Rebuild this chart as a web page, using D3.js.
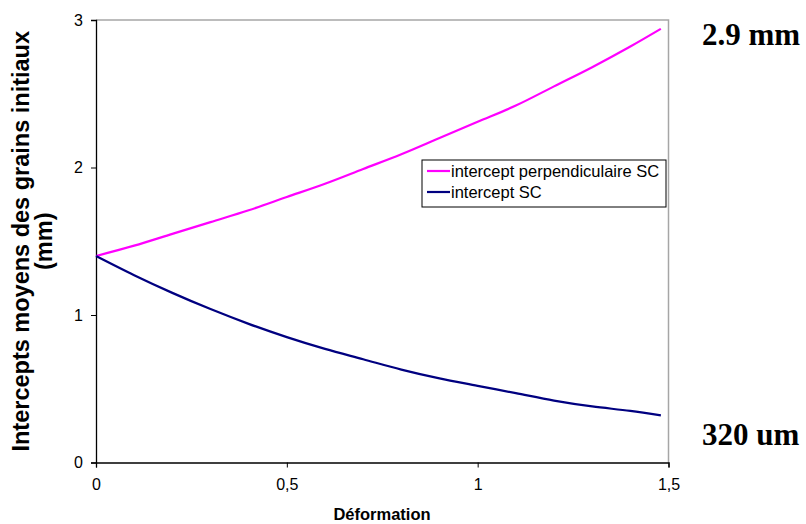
<!DOCTYPE html>
<html>
<head>
<meta charset="utf-8">
<script src="https://cdn.jsdelivr.net/npm/d3@7"></script>
<style>
  html, body { margin: 0; padding: 0; background: #fff; }
  svg { display: block; }
</style>
</head>
<body>
<svg id="chart" width="806" height="524"></svg>
<script>
// ---- data ----
const deformation = [0, 0.1, 0.2, 0.3, 0.4, 0.5, 0.6, 0.7, 0.8, 0.9, 1.0, 1.1, 1.2, 1.3, 1.4, 1.48];
const interceptPerp = [1.40, 1.47, 1.55, 1.63, 1.71, 1.80, 1.89, 1.99, 2.09, 2.20, 2.31, 2.42, 2.55, 2.68, 2.82, 2.94];
const interceptSC = [1.40, 1.27, 1.15, 1.04, 0.94, 0.85, 0.77, 0.70, 0.63, 0.57, 0.52, 0.47, 0.42, 0.38, 0.35, 0.32];
const seriesNames = ["intercept perpendiculaire SC", "intercept SC"];
const seriesColors = ["#FF00FF", "#000080"];
const xTicks = [0, 0.5, 1, 1.5];
const yTicks = [0, 1, 2, 3];
const xTitle = "Déformation";
const yTitleLines = ["Intercepts moyens des grains initiaux", "(mm)"];
const annotations = ["2.9 mm", "320 um"];

// ---- layout ----
const svg = d3.select("#chart");
const pLeft = 96, pRight = 668.5, pTop = 20, pBottom = 462.5;
const sans = "Arial, 'Liberation Sans', sans-serif";
const serif = "'Times New Roman', 'Liberation Serif', serif";

const x = d3.scaleLinear().domain([0, 1.5]).range([pLeft, pRight]);
const y = d3.scaleLinear().domain([0, 3]).range([pBottom, pTop]);

// plot border (top/right grey)
svg.append("path")
  .attr("d", `M${pLeft},${pTop}H${pRight}V${pBottom}`)
  .attr("fill", "none").attr("stroke", "#a6a6a6").attr("stroke-width", 1.5);

const fmt = d => String(d).replace(".", ",");

// x axis
const xAxis = svg.append("g")
  .attr("transform", `translate(0,${pBottom})`)
  .call(d3.axisBottom(x).tickValues(xTicks).tickFormat(fmt).tickSizeOuter(0).tickSize(5).tickPadding(11));
xAxis.select(".domain").attr("stroke", "#000").attr("stroke-width", 1.3);
xAxis.selectAll(".tick line").attr("stroke", "#000");
xAxis.selectAll("text").attr("font-family", sans).attr("font-size", 16).attr("fill", "#000");

// y axis
const yAxis = svg.append("g")
  .attr("transform", `translate(${pLeft},0)`)
  .call(d3.axisLeft(y).tickValues(yTicks).tickFormat(fmt).tickSizeOuter(0).tickSize(5).tickPadding(8));
yAxis.select(".domain").attr("stroke", "#000").attr("stroke-width", 1.3);
yAxis.selectAll(".tick line").attr("stroke", "#000");
yAxis.selectAll("text").attr("font-family", sans).attr("font-size", 16).attr("fill", "#000");

// lines
const line = d3.line().x((d, i) => x(deformation[i])).y(d => y(d)).curve(d3.curveMonotoneX);
[interceptPerp, interceptSC].forEach((vals, k) => {
  svg.append("path")
    .attr("d", line(vals))
    .attr("fill", "none")
    .attr("stroke", seriesColors[k])
    .attr("stroke-width", 2.2);
});

// legend
const lg = svg.append("g");
lg.append("rect").attr("x", 422).attr("y", 160).attr("width", 244).attr("height", 47)
  .attr("fill", "#fff").attr("stroke", "#000").attr("stroke-width", 1);
seriesNames.forEach((name, k) => {
  const ly = 171 + k * 21;
  lg.append("line").attr("x1", 427).attr("x2", 450).attr("y1", ly).attr("y2", ly)
    .attr("stroke", seriesColors[k]).attr("stroke-width", 2.2);
  lg.append("text").attr("x", 451).attr("y", ly + 6)
    .attr("font-family", sans).attr("font-size", 16.5)
    .attr("fill", "#000").text(name);
});

// axis titles
svg.append("text").attr("x", 382).attr("y", 520)
  .attr("text-anchor", "middle")
  .attr("font-family", sans).attr("font-size", 16.5).attr("font-weight", "bold")
  .text(xTitle);

const yt = svg.append("text")
  .attr("transform", `translate(29,${(pTop + pBottom) / 2}) rotate(-90)`)
  .attr("text-anchor", "middle")
  .attr("font-family", sans).attr("font-size", 23.5).attr("font-weight", "bold");
yTitleLines.forEach((t, i) => {
  yt.append("tspan").attr("x", 0).attr("dy", i === 0 ? 0 : 23).text(t);
});

// annotations
svg.append("text").attr("x", 702).attr("y", 45)
  .attr("font-family", serif).attr("font-size", 31).attr("font-weight", "bold")
  .text(annotations[0]);
svg.append("text").attr("x", 702).attr("y", 445)
  .attr("font-family", serif).attr("font-size", 31).attr("font-weight", "bold")
  .text(annotations[1]);
</script>
</body>
</html>
